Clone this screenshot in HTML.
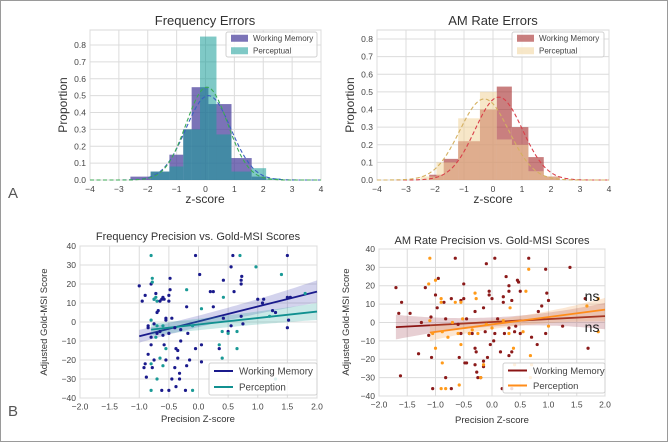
<!DOCTYPE html>
<html><head><meta charset="utf-8"><style>
html,body{margin:0;padding:0;background:#fff;overflow:hidden}
svg{display:block;font-family:"Liberation Sans","DejaVu Sans",sans-serif}
</style></head><body>
<svg id="fig" width="668" height="442" viewBox="0 0 668 442">
<rect x="0.5" y="0.5" width="667" height="441" fill="#fff" stroke="#9a9a9a"/>
<text x="8" y="198" font-size="15" fill="#555">A</text>
<text x="8" y="416" font-size="15" fill="#555">B</text>
</svg>
<script>
// ---------- DATA ----------
const histTicksX = [-4,-3,-2,-1,0,1,2,3,4];
const histTicksY = [0,0.1,0.2,0.3,0.4,0.5,0.6,0.7,0.8];
const freqWMEdges = [-2.6,-1.9,-1.25,-0.77,-0.48,0.1,0.9,1.6,2.1];
const freqWMHeights = [0.02,0.05,0.15,0.30,0.55,0.45,0.13,0.02];
const freqPEdges = [-1.9,-1.25,-0.77,-0.19,0.38,0.9,1.6,2.1,2.6];
const freqPHeights = [0.05,0.08,0.30,0.85,0.27,0.05,0.07,0.01];
const freqWMFit = [0.1,0.78,0.50];   // mean, sd, peak
const freqPFit = [0.05,0.72,0.55];
const amWMEdges = [-2.2,-1.7,-1.2,-0.45,0.13,0.65,1.22,1.75,2.3];
const amWMHeights = [0.03,0.12,0.22,0.40,0.53,0.30,0.13,0.02];
const amPEdges = [-2.5,-1.95,-1.2,-0.45,0.13,0.65,1.22,1.75,2.3];
const amPHeights = [0.02,0.10,0.35,0.50,0.23,0.20,0.05,0.02];
const amWMFit = [0.2,0.82,0.47];
const amPFit = [-0.3,0.85,0.46];

const scTicksX = [-2,-1.5,-1,-0.5,0,0.5,1,1.5,2];
const scTicksY = [-40,-30,-20,-10,0,10,20,30,40];
const freqWMx = [-1.0,-0.95,-0.9,-0.85,-0.8,-0.8,-0.75,-0.72,-0.7,-0.68,-0.65,-0.62,-0.6,-0.58,-0.55,-0.5,-0.5,-0.48,-0.48,-0.05,0.02,0.2,0.25,0.25,0.58,0.55,0.6,0.72,0.72,0.73,1.0,1.1,1.08,1.5,1.5,1.55,1.52,1.5,1.3,1.25,0.75,0.72,0.42,0.42,0.5,0.55,-0.2,-0.2,-0.22,-0.3,-0.32,-0.32,-0.35,-0.35,-0.38,-0.4,-0.38,-0.45,-0.5,-0.55,-0.58,-0.62,-0.75,-0.78,-0.85,-0.9,-0.92,-0.88,-0.8,-0.7,-0.65,-0.6,-0.5,-0.45,-0.55,-0.3,-0.18,0.05,0.05,-0.05,-0.15,0.35,-0.75,-0.85,-0.4];
const freqWMy = [19,11,14,-2,20,-12,12,15,5,6,11,12,13,12,1,14,11,17,23,35,25,16,16,8,35,29,16,20,22,24,12,12,10,35,13,13,1,-3,5,6,-1,3,22,2,-5,-2,8,-23,-36,-10,-27,-30,-15,-19,-14,-24,-34,-30,-36,-20,-12,-36,-20,-24,-17,-22,-24,-29,-8,-6,-5,-7,-6,2,2,-4,-6,-12,-21,-14,-20,-14,-1,-3,-3];
const freqPx = [-0.8,-0.78,-0.78,-0.75,-0.72,-0.7,-0.8,-0.7,-0.6,-0.72,-0.55,-0.6,-0.65,-0.7,-0.8,-0.8,-0.1,-0.2,0.05,-0.1,0.4,0.42,0.4,0.35,0.65,0.65,0.7,0.97,1.2,1.4,1.8,1.3,0.5];
const freqPy = [35,23,21,12,13,11,1,-2,-2,-8,-14,-23,-19,-30,-22,-36,-36,17,7,-2,-5,13,-19,-12,-14,-5,35,29,3,25,15,-30,-6];
const freqWMReg = [7.83,0.33,-1.0,2.0];  // slope, intercept, xmin, xmax
const freqPReg = [3.4,-1.3,-0.8,2.0];

const amWMx = [-1.7,-1.65,-1.6,-1.62,-1.45,-1.3,-1.25,-1.18,-1.12,-1.08,-1.07,-1.05,-1.0,-0.97,-0.95,-0.85,-0.82,-0.82,-0.72,-0.72,-0.65,-0.6,-0.58,-0.55,-0.55,-0.5,-0.5,-0.48,-0.45,-0.45,-0.4,-0.3,-0.3,-0.3,-0.28,-0.27,-0.25,-0.2,-0.15,-0.15,-0.12,-0.15,-0.1,-0.08,-0.05,-0.05,-0.03,0.0,0.05,0.03,0.05,0.15,0.2,0.2,0.22,0.25,0.3,0.3,0.3,0.35,0.35,0.4,0.42,0.45,0.47,0.5,0.5,0.35,0.3,0.18,0.7,0.8,0.82,0.88,0.95,0.97,1.0,0.95,1.25,1.38,1.65,1.7,0.65,-0.35,0.1];
const amWMy = [19,5,11,-29,5,-17,0,19,-7,3,-19,-36,15,8,24,11,2,-30,13,-36,35,-1,-19,12,-6,21,13,-22,-22,2,-6,6,-14,-23,-16,-27,-30,-30,-24,-21,-5,8,32,-19,15,17,-12,13,35,-10,-6,-16,14,11,-6,25,20,17,-18,-16,12,-5,-2,23,22,17,-6,-36,-3,-36,-8,-12,6,9,29,16,12,-6,-2,30,13,-14,35,-6,2];
const amPx = [-1.1,-1.12,-1.1,-1.05,-1.0,-1.0,-0.9,-0.9,-0.88,-0.88,-0.9,-0.82,-0.78,-0.65,-0.55,-0.55,-0.6,-0.58,-0.52,-0.4,-0.35,-0.3,-0.28,-0.25,-0.2,-0.15,-0.1,0.2,0.3,0.32,0.38,0.4,0.55,0.6,0.65,0.68,0.7,0.68,1.0,1.68,1.88,1.88,0.0,-0.7];
const amPy = [35,21,1,-6,23,-14,13,11,-5,-22,-36,-36,-8,11,11,-12,-6,-34,2,-6,-4,16,13,-6,-30,-23,-1,1,-6,8,-14,-23,-5,17,29,-18,-23,-30,-2,9,13,-5,-3,0];
const amWMReg = [1.62,0.25,-1.7,2.0];
const amPReg = [4.03,-1.06,-1.1,2.0];

// ---------- DRAW ----------
const NS = "http://www.w3.org/2000/svg";
const svg = document.getElementById('fig');
function mk(tag, attrs, parent){ const e=document.createElementNS(NS,tag); for(const k in attrs) e.setAttribute(k,attrs[k]); (parent||svg).appendChild(e); return e; }
function txt(s, attrs, parent){ const e=mk('text',attrs,parent); e.textContent=s; return e; }

function panel(name, box, xd, yd, xt, yt, fmtX, fmtY, tfs){
  const g = mk('g',{});
  
  
  const sx = v => box.x0 + (v-xd[0])/(xd[1]-xd[0])*(box.x1-box.x0);
  const sy = v => box.y0 + (yd[1]-v)/(yd[1]-yd[0])*(box.y1-box.y0);
  const bg = mk('rect',{x:box.x0,y:box.y0,width:box.x1-box.x0,height:box.y1-box.y0,fill:'#fff',stroke:'#d8d8d8','stroke-width':1},g);
  
  
  xt.forEach(v=>{
    const l=mk('line',{x1:sx(v),x2:sx(v),y1:box.y0,y2:box.y1,stroke:'#dcdcdc','stroke-width':1},g);
    
    
    const t=txt(fmtX(v),{x:sx(v),y:box.y1+tfs+3,'font-size':tfs,fill:'#444','text-anchor':'middle'},g);
    
    
  });
  yt.forEach(v=>{
    const l=mk('line',{x1:box.x0,x2:box.x1,y1:sy(v),y2:sy(v),stroke:'#dcdcdc','stroke-width':1},g);
    
    
    const t=txt(fmtY(v),{x:box.x0-4,y:sy(v)+tfs*0.35,'font-size':tfs,fill:'#444','text-anchor':'end'},g);
    
    
  });
  return {g,sx,sy};
}
function histPanel(name,x0,x1,y08){
  const g=mk('g',{});
  
  
  const sx=v=>x0+(v+4)/8*(x1-x0);
  const sy=v=>180-v*(180-y08)/0.8;
  mk('rect',{x:x0,y:30,width:x1-x0,height:150,fill:'#fff',stroke:'#d8d8d8'},g);
  histTicksX.forEach(v=>{
    mk('line',{x1:sx(v),x2:sx(v),y1:30,y2:180,stroke:'#dcdcdc'},g);
    const t=txt(String(v).replace('-','\u2212'),{x:sx(v),y:192,'font-size':8.5,fill:'#444','text-anchor':'middle'},g);
    
    
  });
  histTicksY.forEach(v=>{
    mk('line',{x1:x0,x2:x1,y1:sy(v),y2:sy(v),stroke:'#dcdcdc'},g);
    const t=txt(v.toFixed(1),{x:x0-4,y:sy(v)+3,'font-size':8.5,fill:'#444','text-anchor':'end'},g);
    
    
  });
  return {g,sx,sy};
}
function hist(p, edges, heights, fill, op, name){
  heights.forEach((h,i)=>{
    const r=mk('rect',{x:p.sx(edges[i]),y:p.sy(h),width:p.sx(edges[i+1])-p.sx(edges[i]),height:p.sy(0)-p.sy(h),fill:fill,'fill-opacity':op},p.g);
    
    
  });
}
function fit(p, f, color, name){
  let d='';
  for(let x=-4;x<=4.0001;x+=0.05){ const y=f[2]*Math.exp(-0.5*Math.pow((x-f[0])/f[1],2)); d+=(d?'L':'M')+p.sx(x).toFixed(1)+','+p.sy(y).toFixed(1); }
  const e=mk('path',{d:d,fill:'none',stroke:color,'stroke-width':1.1,'stroke-dasharray':'4,2.5'},p.g);
  
  
}
function legendBox(p, x, y, w, h, items, fs, kind, name){
  const lg=mk('g',{},p.g);
  
  
  mk('rect',{x:x,y:y,width:w,height:h,fill:'#fff','fill-opacity':0.85,stroke:'#d0d0d0',rx:2},lg);
  items.forEach((it,i)=>{
    const cy=y+h*(i+0.5)/items.length;
    if(kind==='patch'){ mk('rect',{x:x+5,y:cy-3.5,width:17,height:7,fill:it[1],'fill-opacity':it[2]},lg); }
    else { mk('line',{x1:x+5,x2:x+24,y1:cy,y2:cy,stroke:it[1],'stroke-width':2},lg); }
    const t=txt(it[0],{x:x+(kind==='patch'?27:30),y:cy+fs*0.36,'font-size':fs,fill:'#444'},lg);
    
    
  });
}
function scatter(p, xs, ys, color, name){
  xs.forEach((x,i)=>{
    const c=mk('circle',{cx:p.sx(x),cy:p.sy(ys[i]),r:1.6,fill:color},p.g);
    
    
  });
}
function reg(p, r, color, band, a, b, xm, name){
  let up='',lo=[];
  for(let x=r[2];x<=r[3]+1e-6;x+=0.05){
    const y=r[1]+r[0]*x, hw=a+b*(x-xm)*(x-xm);
    up+=(up?'L':'M')+p.sx(x).toFixed(1)+','+p.sy(y+hw).toFixed(1);
    lo.unshift(p.sx(x).toFixed(1)+','+p.sy(y-hw).toFixed(1));
  }
  const bd=mk('path',{d:up+'L'+lo.join('L')+'Z',fill:band,'fill-opacity':0.25},p.g);
  
  
  const l=mk('line',{x1:p.sx(r[2]),y1:p.sy(r[1]+r[0]*r[2]),x2:p.sx(r[3]),y2:p.sy(r[1]+r[0]*r[3]),stroke:color,'stroke-width':1.8},p.g);
  
  
}
function labels(p, title, tx, ty, tfs, xl, xly, yl, ylx, yly, lfs){
  const t=txt(title,{x:tx,y:ty,'font-size':tfs,fill:'#333','text-anchor':'middle'},p.g);
  
  
  const x=txt(xl,{x:tx,y:xly,'font-size':lfs,fill:'#333','text-anchor':'middle'},p.g);
  
  
  const y=txt(yl,{x:ylx,y:yly,'font-size':lfs,fill:'#333','text-anchor':'middle',transform:'rotate(-90 '+ylx+' '+yly+')'},p.g);
  
  
}
const f1=v=>v.toFixed(1).replace('-','\u2212');
const f0=v=>String(v).replace('-','\u2212');

// Panel A left
let p=histPanel('frequency-errors-hist',90,321,45);
hist(p,freqWMEdges,freqWMHeights,'#483d9b',0.72,'bar-working-memory');
hist(p,freqPEdges,freqPHeights,'#169c98',0.55,'bar-perceptual');
fit(p,freqWMFit,'#3a5fc0','fit-working-memory');
fit(p,freqPFit,'#3caa55','fit-perceptual');
legendBox(p,226,32,91,25,[['Working Memory','#483d9b',0.72],['Perceptual','#169c98',0.55]],8,'patch','legend');
labels(p,'Frequency Errors',205,25,13,'z-score',203,'Proportion',67,105,12);

// Panel A right
p=histPanel('am-rate-errors-hist',377,609,39);
hist(p,amWMEdges,amWMHeights,'#a52a2a',0.6,'bar-working-memory');
hist(p,amPEdges,amPHeights,'#f0d39a',0.55,'bar-perceptual');
fit(p,amWMFit,'#d9404a','fit-working-memory');
fit(p,amPFit,'#d4b060','fit-perceptual');
legendBox(p,512,32,92,25,[['Working Memory','#a52a2a',0.6],['Perceptual','#f0d39a',0.55]],8,'patch','legend');
labels(p,'AM Rate Errors',493,25,13,'z-score',203,'Proportion',354,105,12);

// Panel B left
p=panel('frequency-precision-scatter',{x0:80,x1:317,y0:246,y1:398},[-2,2],[-40,40],scTicksX,scTicksY,f1,f0,8.5);
reg(p,freqWMReg,'#1a1a8c','#5050b8',3,0.6,-0.2,'regression-working-memory');
reg(p,freqPReg,'#119090','#2aa8a0',3,0.3,-0.2,'regression-perception');
scatter(p,freqWMx,freqWMy,'#1a1a8c','point-working-memory');
scatter(p,freqPx,freqPy,'#1a9a96','point-perception');
legendBox(p,209,363,108,32,[['Working Memory','#1a1a8c'],['Perception','#119090']],9.8,'line','legend');
labels(p,'Frequency Precision vs. Gold-MSI Scores',198,240,11,'Precision Z-score',422,'Adjusted Gold-MSI Score',47,322,9.5);

// Panel B right
p=panel('am-rate-precision-scatter',{x0:379,x1:605,y0:249,y1:396},[-2,2],[-40,40],scTicksX,scTicksY,f1,f0,8.5);
reg(p,amWMReg,'#8b1414','#a04050',2.5,1.3,0.1,'regression-working-memory');
reg(p,amPReg,'#ff8c1a','#f5a050',2.5,1.2,0.2,'regression-perception');
scatter(p,amWMx,amWMy,'#8b1a1a','point-working-memory');
scatter(p,amPx,amPy,'#ff9a1a','point-perception');
legendBox(p,503,363,102,30,[['Working Memory','#8b1414'],['Perception','#ff8c1a']],9.5,'line','legend');
labels(p,'AM Rate Precision vs. Gold-MSI Scores',492,244,11,'Precision Z-score',423,'Adjusted Gold-MSI Score',349,322,9.5);
const ns1=txt('ns',{x:p.sx(1.64),y:p.sy(14)+4,'font-size':14,fill:'#222'},p.g);


const ns2=txt('ns',{x:p.sx(1.64),y:p.sy(-3)+4,'font-size':14,fill:'#222'},p.g);


</script>
</body></html>
